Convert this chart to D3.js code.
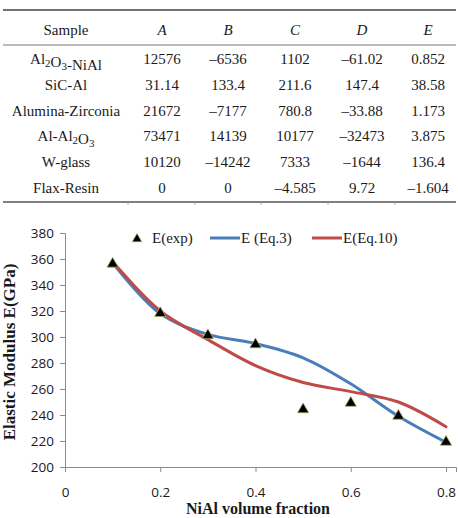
<!DOCTYPE html>
<html>
<head>
<meta charset="utf-8">
<title>Elastic modulus vs NiAl volume fraction</title>
<style>
  body { margin: 0; background: #fff; }
  svg text { fill: #1a1a1a; }
  svg text.serif, svg text.serif tspan { font-family: "Liberation Serif", "Times New Roman", serif; }
</style>
</head>
<body>
<div id="chart"></div>
<script src="https://cdn.jsdelivr.net/npm/d3@7"></script>
<script>
// ---- table data ----
var tableHeader = ["Sample", "A", "B", "C", "D", "E"];
// {n} marks a subscript
var samples = ["Al{2}O{3}-NiAl", "SiC-Al", "Alumina-Zirconia", "Al-Al{2}O{3}", "W-glass", "Flax-Resin"];
var colA = ["12576", "31.14", "21672", "73471", "10120", "0"];
var colB = ["\u20136536", "133.4", "\u20137177", "14139", "\u201314242", "0"];
var colC = ["1102", "211.6", "780.8", "10177", "7333", "\u20134.585"];
var colD = ["\u201361.02", "147.4", "\u201333.88", "\u201332473", "\u20131644", "9.72"];
var colE = ["0.852", "38.58", "1.173", "3.875", "136.4", "\u20131.604"];

// ---- chart data ----
var fraction = [0.1, 0.2, 0.3, 0.4, 0.5, 0.6, 0.7, 0.8];
var eExp  = [357, 319, 302, 295, 245, 250, 240, 220];
var eEq3  = [357, 318, 302, 295, 284, 264, 239, 219];
var eEq10 = [358, 320, 298, 278, 265, 258, 250, 231];
var xTicks = [0, 0.2, 0.4, 0.6, 0.8];
var yTicks = [200, 220, 240, 260, 280, 300, 320, 340, 360, 380];

var W = 458, H = 518;
var svg = d3.select("#chart").append("svg")
    .attr("width", W)
    .attr("height", H);

var sans = "'Open Sans', 'Noto Sans', sans-serif";

// ======== table ========
var colX = [66, 162, 228, 295, 362, 428];
var rowY = d3.scaleLinear().domain([0, 5]).range([64, 193]);
var table = svg.append("g");

table.append("line").attr("x1", 3).attr("x2", 456).attr("y1", 10).attr("y2", 10)
    .attr("stroke", "#444").attr("stroke-width", 1.6);
table.append("line").attr("x1", 3).attr("x2", 456).attr("y1", 45).attr("y2", 45)
    .attr("stroke", "#777").attr("stroke-width", 1);
table.append("line").attr("x1", 3).attr("x2", 456).attr("y1", 202).attr("y2", 202)
    .attr("stroke", "#555").attr("stroke-width", 1.3);
// little column marks under the bottom rule
[128, 195, 261, 328, 395].forEach(function(x) {
  table.append("line").attr("x1", x).attr("x2", x).attr("y1", 202).attr("y2", 205)
      .attr("stroke", "#999").attr("stroke-width", 0.8);
});

table.selectAll(".hd").data(tableHeader).enter().append("text")
    .attr("class", "hd serif")
    .attr("x", function(d, i) { return colX[i]; })
    .attr("y", 35)
    .attr("text-anchor", "middle")
    .style("font-size", "15px")
    .style("font-style", function(d, i) { return i > 0 ? "italic" : "normal"; })
    .text(function(d) { return d; });

// sample names with subscripts
samples.forEach(function(s, r) {
  var t = table.append("text")
      .attr("class", "serif")
      .attr("x", colX[0])
      .attr("y", rowY(r))
      .attr("text-anchor", "middle")
      .style("font-size", "15px");
  s.split(/(\{\d\})/).forEach(function(part) {
    if (!part) return;
    var m = part.match(/^\{(\d)\}$/);
    if (m) {
      t.append("tspan").attr("dy", 3).style("font-size", "11px").text(m[1]);
      t.append("tspan").attr("dy", -3).text("");
    } else {
      t.append("tspan").text(part);
    }
  });
});

[colA, colB, colC, colD, colE].forEach(function(col, c) {
  table.selectAll(".c" + c).data(col).enter().append("text")
      .attr("class", "c" + c + " serif")
      .attr("x", colX[c + 1])
      .attr("y", function(d, i) { return rowY(i); })
      .attr("text-anchor", "middle")
      .style("font-size", "15px")
      .text(function(d) { return d; });
});

// ======== chart ========
var x = d3.scaleLinear().domain([0, 0.821]).range([65, 456]);
var y = d3.scaleLinear().domain([200, 380]).range([467, 233]);
var axisColor = "#8c8c8c";

var yAxis = svg.append("g")
    .attr("transform", "translate(65,0)")
    .call(d3.axisLeft(y).tickValues(yTicks).tickSize(5).tickPadding(6)
      .tickFormat(d3.format("d")));
var xAxis = svg.append("g")
    .attr("transform", "translate(0,467)")
    .call(d3.axisBottom(x).tickValues(xTicks).tickSize(5).tickPadding(15)
      .tickFormat(function(d) { return d === 0 ? "0" : d3.format(".1f")(d); }));

[yAxis, xAxis].forEach(function(a) {
  a.select(".domain").attr("stroke", axisColor).attr("stroke-width", 1);
  a.selectAll(".tick line").attr("stroke", axisColor);
  a.selectAll(".tick text")
      .style("font-family", sans)
      .style("font-size", "13.5px")
      .attr("fill", "#333");
});

var line = d3.line()
    .x(function(d, i) { return x(fraction[i]); })
    .y(function(d) { return y(d); })
    .curve(d3.curveCatmullRom.alpha(0.5));

svg.append("path").datum(eEq3)
    .attr("d", line)
    .attr("fill", "none")
    .attr("stroke", "#4a7ebb")
    .attr("stroke-width", 3)
    .attr("stroke-linecap", "round");

svg.append("path").datum(eEq10)
    .attr("d", line)
    .attr("fill", "none")
    .attr("stroke", "#be4b48")
    .attr("stroke-width", 3)
    .attr("stroke-linecap", "round");

var tri = d3.symbol().type(d3.symbolTriangle).size(55);
svg.selectAll(".pt").data(eExp).enter().append("path")
    .attr("class", "pt")
    .attr("d", tri)
    .attr("transform", function(d, i) {
      return "translate(" + x(fraction[i]) + "," + (y(d) + 1) + ")";
    })
    .attr("fill", "#000")
    .attr("stroke", "#a8a860")
    .attr("stroke-width", 0.8);

// legend
var legend = svg.append("g");
legend.append("path")
    .attr("d", d3.symbol().type(d3.symbolTriangle).size(38))
    .attr("transform", "translate(137,239)")
    .attr("fill", "#000")
    .attr("stroke", "#a8a860")
    .attr("stroke-width", 0.6);
legend.append("text").attr("class", "serif").style("font-size", "15px")
    .attr("x", 152).attr("y", 243).text("E(exp)");
legend.append("line").attr("x1", 210).attr("x2", 240).attr("y1", 238).attr("y2", 238)
    .attr("stroke", "#4a7ebb").attr("stroke-width", 3);
legend.append("text").attr("class", "serif").style("font-size", "15px")
    .attr("x", 241).attr("y", 243).text("E (Eq.3)");
legend.append("line").attr("x1", 312).attr("x2", 342).attr("y1", 238).attr("y2", 238)
    .attr("stroke", "#be4b48").attr("stroke-width", 3);
legend.append("text").attr("class", "serif").style("font-size", "15px")
    .attr("x", 343).attr("y", 243).text("E(Eq.10)");

// axis titles
svg.append("text")
    .attr("class", "serif")
    .attr("transform", "translate(15,352) rotate(-90)")
    .attr("text-anchor", "middle")
    .style("font-size", "17px")
    .style("font-weight", "bold")
    .text("Elastic Modulus E(GPa)");

svg.append("text")
    .attr("class", "serif")
    .attr("x", 258)
    .attr("y", 514)
    .attr("text-anchor", "middle")
    .style("font-size", "16px")
    .style("font-weight", "bold")
    .text("NiAl volume fraction");
</script>
</body>
</html>
